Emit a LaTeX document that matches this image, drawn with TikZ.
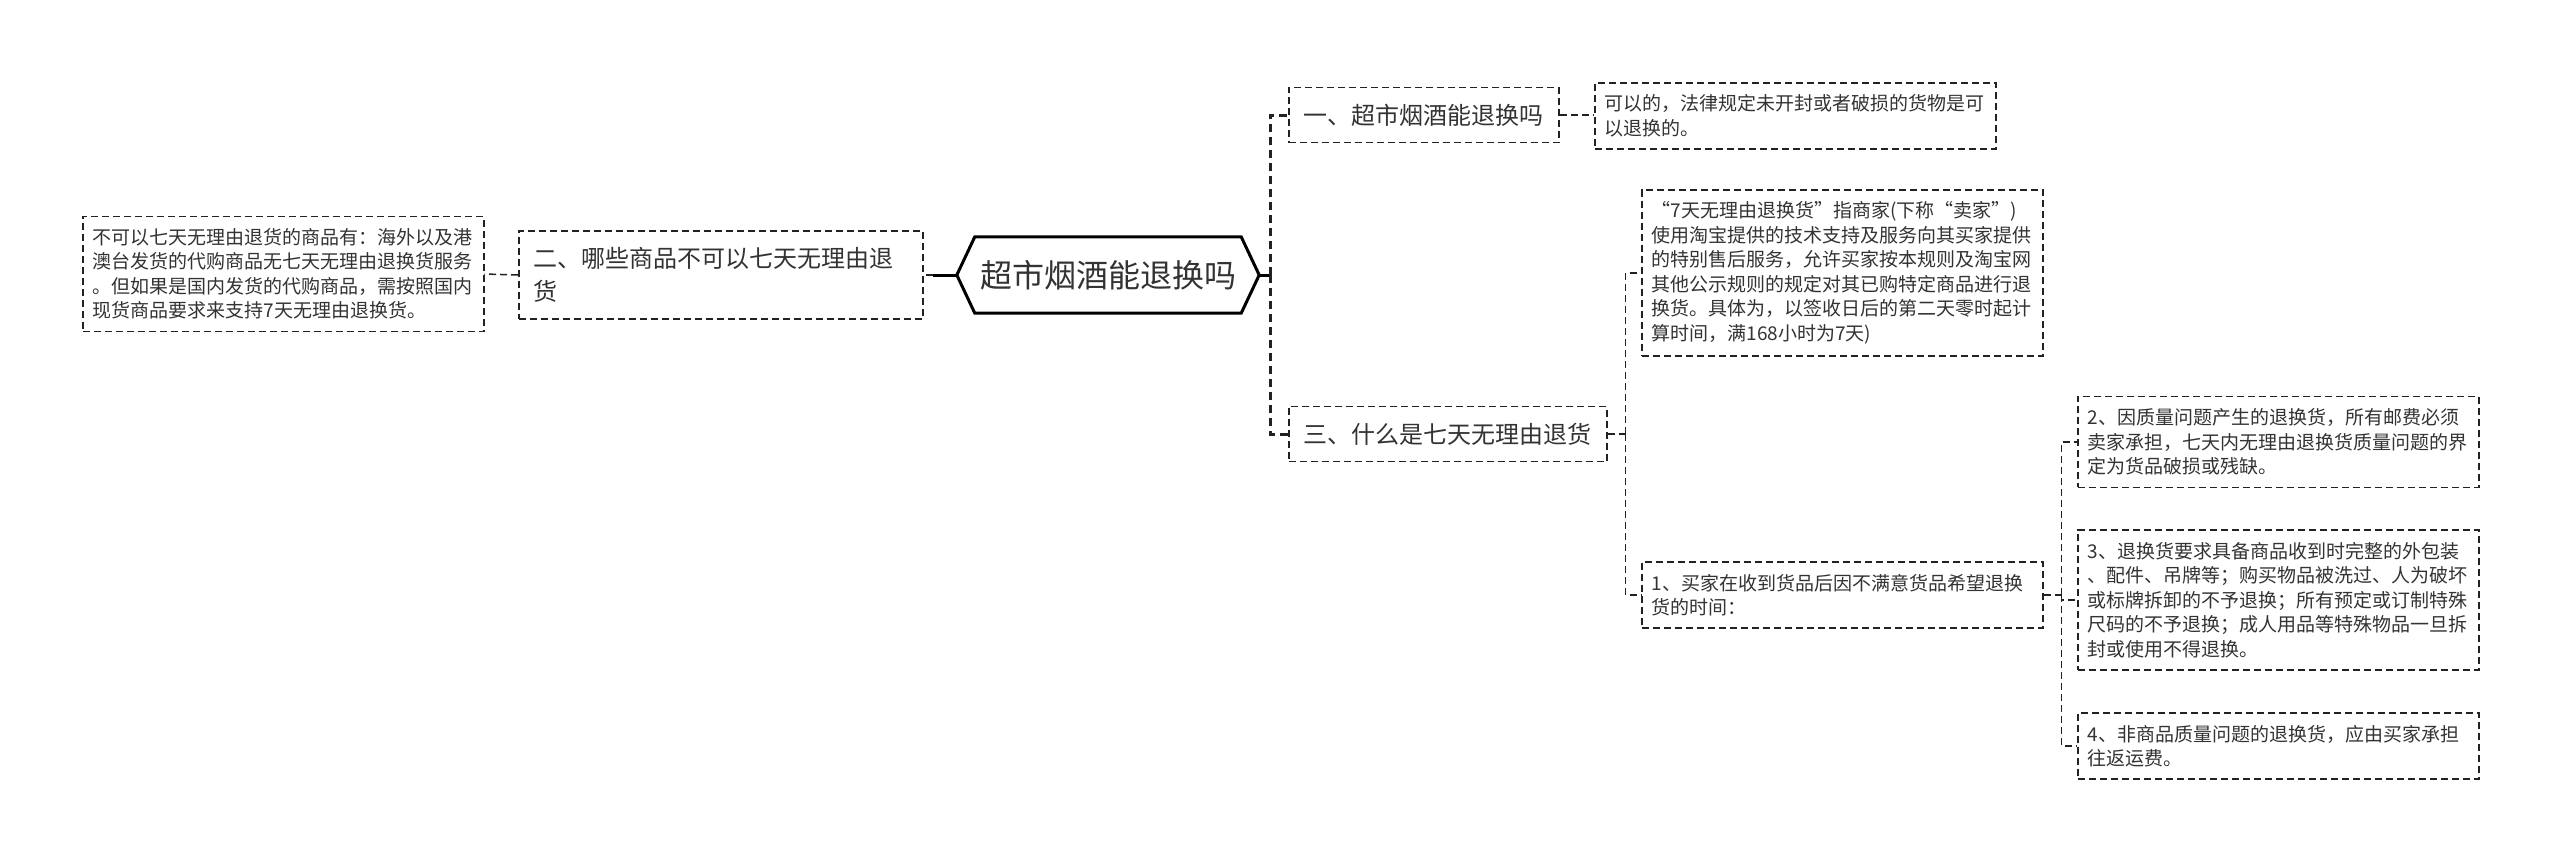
\documentclass[tikz,border=0pt]{standalone}
\usepackage{fontspec}
\setmainfont{Noto Sans CJK SC}
\definecolor{figtext}{HTML}{333333}
\definecolor{figline}{HTML}{222222}
\tikzset{
  mmroot/.style={minimum width=302pt, minimum height=76pt, inner sep=0pt, font=\fontsize{32}{38}\selectfont},
  mmtopic/.style={draw=figline, line width=1.6pt, dash pattern=on 7pt off 4pt, inner xsep=15pt, inner ysep=16.5pt, anchor=west, align=left, font=\fontsize{24}{33}\selectfont},
  mmleaf/.style={draw=figline, line width=1.5pt, dash pattern=on 7pt off 4pt, inner xsep=10pt, inner ysep=12pt, anchor=west, align=left, text width=381pt, font=\fontsize{19}{24.5}\selectfont},
  mmlink/.style={draw=figline, line width=1.5pt, dash pattern=on 7pt off 4pt},
  mmspine/.style={draw=figline, line width=3pt, dash pattern=on 8pt off 5pt},
  mmstem/.style={draw=black, line width=3pt}
}
\begin{document}
\begin{tikzpicture}[x=1pt,y=-1pt,every node/.style={text=figtext}]
  \useasboundingbox[fill=white] (0,0) rectangle (2560,863);
  % centre and first level
  \node[mmroot] (root) at (1108,275) {超市烟酒能退换吗};
  \draw[mmstem,line join=miter] (root.west) -- ([xshift=18pt]root.north west) -- ([xshift=-18pt]root.north east)
    -- (root.east) -- ([xshift=-18pt]root.south east) -- ([xshift=18pt]root.south west) -- cycle;
  \node[mmtopic,text width=374pt] (er) at (518,275) {二、哪些商品不可以七天无理由退\\货};
  \node[mmtopic] (yi) at (1288,115) {一、超市烟酒能退换吗};
  \node[mmtopic] (san) at (1288,434) {三、什么是七天无理由退货};
  % leaves
  \node[mmleaf] (lleaf) at (82,274) {不可以七天无理由退货的商品有：海外以及港\\澳台发货的代购商品无七天无理由退换货服务\\。但如果是国内发货的代购商品，需按照国内\\现货商品要求来支持7天无理由退换货。};
  \node[mmleaf] (leafa) at (1594,116) {可以的，法律规定未开封或者破损的货物是可\\以退换的。};
  \node[mmleaf] (seven) at (1641,273) {“7天无理由退换货”指商家(下称“卖家”)\\使用淘宝提供的技术支持及服务向其买家提供\\的特别售后服务，允许买家按本规则及淘宝网\\其他公示规则的规定对其已购特定商品进行退\\换货。具体为，以签收日后的第二天零时起计\\算时间，满168小时为7天)};
  \node[mmleaf] (one) at (1641,595) {1、买家在收到货品后因不满意货品希望退换\\货的时间：};
  \node[mmleaf] (two) at (2077,442) {2、因质量问题产生的退换货，所有邮费必须\\卖家承担，七天内无理由退换货质量问题的界\\定为货品破损或残缺。};
  \node[mmleaf] (three) at (2077,600) {3、退换货要求具备商品收到时完整的外包装\\、配件、吊牌等；购买物品被洗过、人为破坏\\或标牌拆卸的不予退换；所有预定或订制特殊\\尺码的不予退换；成人用品等特殊物品一旦拆\\封或使用不得退换。};
  \node[mmleaf] (four) at (2077,746) {4、非商品质量问题的退换货，应由买家承担\\往返运费。};
  % left branch
  \draw[mmstem] (root.west) -- ++(-24,0) coordinate (rl);
  \draw[mmlink] (rl) -- (er.east);
  \draw[mmlink] (er.west) -- (lleaf.east);
  % right branch
  \draw[mmstem] (root.east) -- ++(11,0) coordinate (rr);
  \draw[mmspine] (rr) |- (yi.west);
  \draw[mmspine] (rr) |- (san.west);
  \draw[mmlink] (yi.east) -- (yi.east -| leafa.west);
  \draw[mmlink] (san.east) -- ++(18,0) coordinate (sr);
  \draw[mmlink] (sr) |- (seven.west);
  \draw[mmlink] (sr) |- (one.west);
  \draw[mmlink] (one.east) -- ++(18,0) coordinate (orr);
  \foreach \n in {two,three,four} {
    \draw[mmlink] (orr) |- (\n.west);
  }
\end{tikzpicture}
\end{document}
